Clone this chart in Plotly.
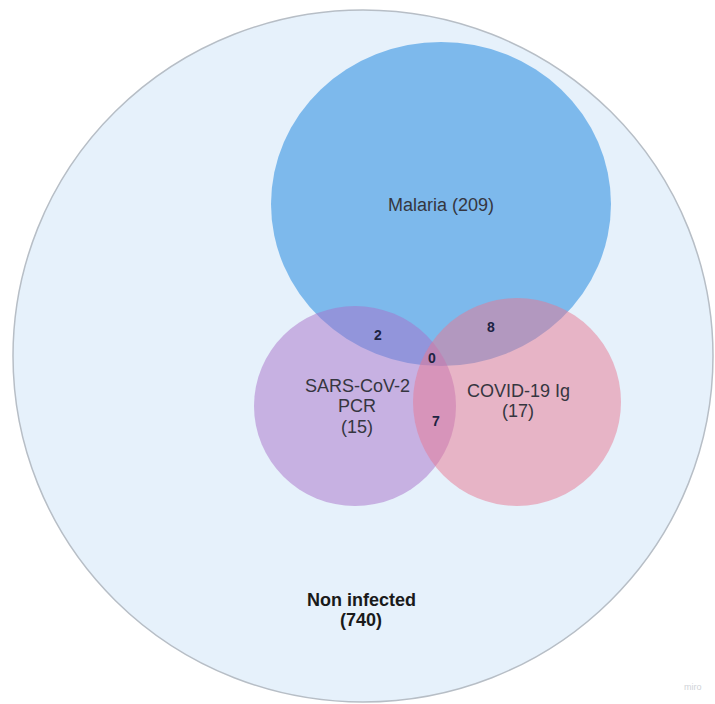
import plotly.graph_objects as go

# Data (counts)
set_names = ["Malaria", "SARS-CoV-2 PCR", "COVID-19 Ig"]
set_counts = [209, 15, 17]
overlap_labels = ["Malaria∩PCR", "Malaria∩Ig", "All three", "PCR∩Ig"]
overlap_counts = [2, 8, 0, 7]
outside_name = "Non infected"
outside_count = 740

W, H = 715, 704

# Layout geometry (pixels)
universe = dict(cx=363, cy=356, rx=350, ry=346)
circles = [
    dict(cx=441, cy=204, rx=170, ry=162, fill="rgba(125,185,236,1)"),
    dict(cx=355, cy=406, rx=101, ry=100, fill="rgba(168,113,201,0.5)"),
    dict(cx=517, cy=402, rx=104, ry=104, fill="rgba(232,119,145,0.5)"),
]
# label lines: each set label split into lines with their own y positions
set_label_lines = [
    [("Malaria ({})", 441, 205)],
    [("SARS-CoV-2", 357, 386), ("PCR", 357, 406), ("({})", 357, 427)],
    [("COVID-19 Ig", 518, 391), ("({})", 518, 411)],
]
overlap_pos = [(378, 335), (491, 327), (432, 358), (436, 421)]
outside_lines = [("{}", 361, 600), ("({})", 361, 620)]

fig = go.Figure()
fig.add_trace(go.Scatter(x=[0, W], y=[0, H], mode="markers",
                         marker=dict(opacity=0), hoverinfo="skip", showlegend=False))

shapes = [dict(type="circle", xref="x", yref="y",
               x0=universe["cx"] - universe["rx"], x1=universe["cx"] + universe["rx"],
               y0=universe["cy"] - universe["ry"], y1=universe["cy"] + universe["ry"],
               fillcolor="#e6f1fb", line=dict(color="#b7bec6", width=1.5), layer="below")]
for c in circles:
    shapes.append(dict(type="circle", xref="x", yref="y",
                       x0=c["cx"] - c["rx"], x1=c["cx"] + c["rx"],
                       y0=c["cy"] - c["ry"], y1=c["cy"] + c["ry"],
                       fillcolor=c["fill"], line=dict(width=0), layer="below"))

FONT = "Liberation Sans, Arial"
annotations = []
for name, cnt, lines in zip(set_names, set_counts, set_label_lines):
    words = name.split(" ")
    for tmpl, x, y in lines:
        if "{}" in tmpl:
            txt = tmpl.format(cnt)
        else:
            txt = tmpl
        annotations.append(dict(x=x, y=y, xref="x", yref="y", showarrow=False, text=txt,
                                font=dict(family=FONT, size=18, color="#35363f")))
for cnt, (x, y) in zip(overlap_counts, overlap_pos):
    annotations.append(dict(x=x, y=y, xref="x", yref="y", showarrow=False,
                            text=f"<b>{cnt}</b>",
                            font=dict(family=FONT, size=14, color="#1d2342")))
for i, (tmpl, x, y) in enumerate(outside_lines):
    txt = tmpl.format(outside_name if i == 0 else outside_count)
    annotations.append(dict(x=x, y=y, xref="x", yref="y", showarrow=False,
                            text=f"<b>{txt}</b>",
                            font=dict(family=FONT, size=18, color="#1a1a1a")))
annotations.append(dict(x=693, y=687, xref="x", yref="y", showarrow=False, text="miro",
                        font=dict(family=FONT, size=9, color="#cfd3d8")))

fig.update_layout(
    width=W, height=H, margin=dict(l=0, r=0, t=0, b=0),
    paper_bgcolor="white", plot_bgcolor="white",
    xaxis=dict(range=[0, W], visible=False, fixedrange=True),
    yaxis=dict(range=[H, 0], visible=False, fixedrange=True),
    shapes=shapes, annotations=annotations, showlegend=False,
)
fig.write_html("out.html", config={"displayModeBar": False},
               post_script="document.body.style.margin='0';document.body.style.overflow='hidden';")
